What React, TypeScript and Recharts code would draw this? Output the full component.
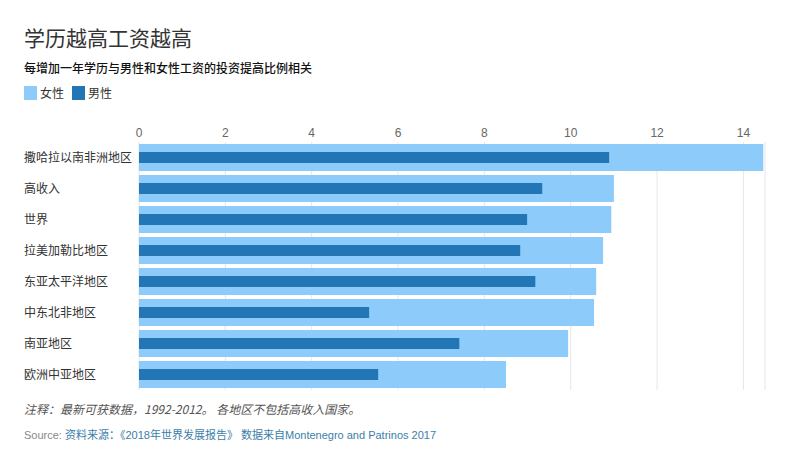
import React from 'react';
import { BarChart, Bar, XAxis, YAxis, CartesianGrid } from 'recharts';

const regions = ['撒哈拉以南非洲地区', '高收入', '世界', '拉美加勒比地区', '东亚太平洋地区', '中东北非地区', '南亚地区', '欧洲中亚地区'];
const femaleValues = [14.46, 11.0, 10.94, 10.75, 10.59, 10.54, 9.94, 8.5];
const maleValues = [10.89, 9.34, 8.99, 8.83, 9.18, 5.33, 7.42, 5.54];
const xTicks = [0, 2, 4, 6, 8, 10, 12, 14];

const FEMALE = '#8ccbfa';
const MALE = '#2376b5';
const CJK = '"Noto Sans CJK SC", "Noto Sans", sans-serif';

const data = regions.map((region, i) => ({ region, female: femaleValues[i], male: maleValues[i] }));

const RegionTick = (props: any) => {
  const { y, payload } = props;
  return (
    <text x={24} y={y} dy="0.36em" textAnchor="start" fill="#333" fontSize={12} fontFamily={CJK}>
      {payload.value}
    </text>
  );
};

const App: React.FC = () => {
  return (
    <div style={{ position: 'absolute', left: 0, top: 0, width: 790, height: 462, background: '#fff', fontFamily: CJK }}>
      <div style={{ position: 'absolute', left: 24, top: 22, fontSize: 21, color: '#333', lineHeight: '30px' }}>
        学历越高工资越高
      </div>
      <div style={{ position: 'absolute', left: 24, top: 59, fontSize: 12, color: '#111', fontWeight: 500, lineHeight: '18px' }}>
        每增加一年学历与男性和女性工资的投资提高比例相关
      </div>
      <div style={{ position: 'absolute', left: 24, top: 86, display: 'flex', alignItems: 'center', fontSize: 12, color: '#333', lineHeight: '14px' }}>
        <span style={{ width: 13, height: 14, background: FEMALE, display: 'inline-block', marginRight: 3 }} />
        <span style={{ marginRight: 8 }}>女性</span>
        <span style={{ width: 13, height: 14, background: MALE, display: 'inline-block', marginRight: 3 }} />
        <span>男性</span>
      </div>

      <div style={{ position: 'absolute', left: 0, top: 0 }}>
        <BarChart
          width={790}
          height={400}
          data={data}
          layout="vertical"
          margin={{ top: 122, right: 25, left: 0, bottom: 10 }}
        >
          <CartesianGrid horizontal={false} stroke="#e6e6e9" yAxisId="f" />
          <XAxis
            type="number"
            orientation="top"
            domain={[0, 14.5]}
            ticks={xTicks}
            height={20}
            axisLine={false}
            tickLine={false}
            tickSize={0}
            tickMargin={5}
            tick={{ fill: '#666', fontSize: 12, fontFamily: '"Liberation Sans Narrow", "Liberation Sans", sans-serif' }}
          />
          <YAxis
            yAxisId="f"
            type="category"
            dataKey="region"
            width={139}
            axisLine={false}
            tickLine={false}
            tick={<RegionTick />}
          />
          <YAxis yAxisId="m" type="category" dataKey="region" hide />
          <Bar dataKey="female" yAxisId="f" fill={FEMALE} barSize={27} isAnimationActive={false} />
          <Bar dataKey="male" yAxisId="m" fill={MALE} barSize={11} isAnimationActive={false} />
        </BarChart>
      </div>

      <div style={{ position: 'absolute', left: 24, top: 401, fontSize: 12, color: '#555', fontStyle: 'italic', lineHeight: '16px' }}>
        注释：最新可获数据，1992-2012。 各地区不包括高收入国家。
      </div>
      <div style={{ position: 'absolute', left: 24, top: 428, fontSize: 11, lineHeight: '15px', fontFamily: '"Liberation Sans", ' + CJK }}>
        <span style={{ color: '#888' }}>Source: </span>
        <span style={{ color: '#3b7ea8' }}>资料来源：《2018年世界发展报告》 数据来自Montenegro and Patrinos 2017</span>
      </div>
    </div>
  );
};

export default App;
